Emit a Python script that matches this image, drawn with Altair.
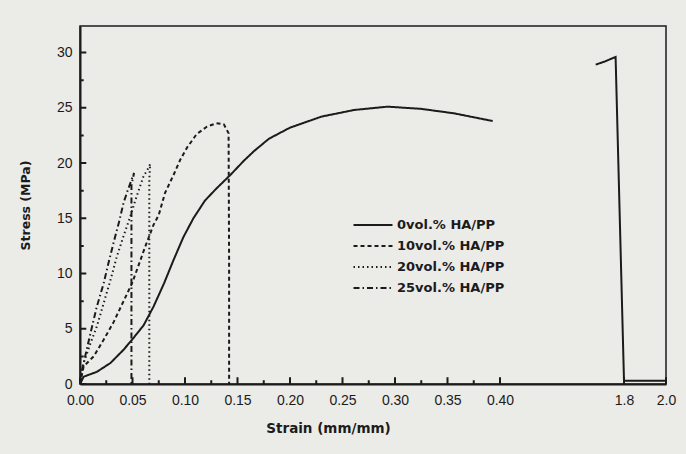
import altair as alt
import pandas as pd

series = ["0vol.% HA/PP", "10vol.% HA/PP", "20vol.% HA/PP", "25vol.% HA/PP"]

# 0 vol.% HA/PP (two pieces either side of the axis break)
s0a_strain = [0, 0.0035, 0.016, 0.029, 0.0415, 0.0495, 0.0605, 0.070, 0.080, 0.089, 0.0985,
              0.108, 0.119, 0.130, 0.143, 0.156, 0.166, 0.18, 0.20, 0.23, 0.261, 0.293,
              0.325, 0.356, 0.393]
s0a_stress = [0, 0.66, 1.1, 1.9, 3.1, 4.0, 5.3, 7.0, 9.1, 11.2, 13.3,
              15.0, 16.6, 17.7, 18.9, 20.2, 21.1, 22.2, 23.2, 24.2, 24.8, 25.1,
              24.9, 24.5, 23.8]
s0b_strain = [1.665, 1.71, 1.76, 1.80, 2.0]
s0b_stress = [28.9, 29.2, 29.6, 0.3, 0.3]

s10_strain = [0, 0.0035, 0.013, 0.0225, 0.032, 0.037, 0.045, 0.0495, 0.056, 0.062, 0.070,
              0.075, 0.081, 0.089, 0.0955, 0.102, 0.111, 0.121, 0.130, 0.137, 0.1415,
              0.142, 0.142]
s10_stress = [0, 1.6, 2.5, 4.0, 5.6, 6.6, 8.2, 9.1, 10.8, 12.4, 14.4,
              15.3, 17.3, 18.9, 20.3, 21.4, 22.6, 23.3, 23.6, 23.5, 22.7,
              11.0, 0]

s20_strain = [0, 0.0035, 0.010, 0.016, 0.0225, 0.029, 0.035, 0.0415, 0.048, 0.054, 0.0605,
              0.0655, 0.0668, 0.066, 0.066]
s20_stress = [0, 1.9, 3.7, 5.2, 7.3, 9.4, 11.5, 13.4, 15.2, 17.0, 18.8,
              19.6, 19.9, 18.5, 0]

s25_strain = [0, 0.002, 0.010, 0.016, 0.0225, 0.027, 0.032, 0.037, 0.0415, 0.045, 0.0495,
              0.0515, 0.049, 0.049]
s25_stress = [0, 1.3, 4.6, 7.0, 9.1, 10.9, 12.8, 14.6, 16.4, 17.4, 18.6,
              19.1, 18.0, 0]

x_major = [0, 0.05, 0.10, 0.15, 0.20, 0.25, 0.30, 0.35, 0.40, 1.8, 2.0]
x_minor = [0.025, 0.075, 0.125, 0.175, 0.225, 0.275, 0.325, 0.375]
y_major = [0, 5, 10, 15, 20, 25, 30]
y_minor = [2.5, 7.5, 12.5, 17.5, 22.5, 27.5]

pieces = [
    (series[0], "a", s0a_strain, s0a_stress),
    (series[0], "b", s0b_strain, s0b_stress),
    (series[1], "a", s10_strain, s10_stress),
    (series[2], "a", s20_strain, s20_stress),
    (series[3], "a", s25_strain, s25_stress),
]
rows = []
for name, seg, xs, ys in pieces:
    for i, (sx, sy) in enumerate(zip(xs, ys)):
        rows.append({"series": name, "piece": name + seg, "i": i, "strain": sx, "stress": sy})

# inward tick marks, each a short solid two-point segment (length in data units)
for k, v in enumerate(x_major):
    rows += [{"series": series[0], "piece": f"xM{k}", "i": 0, "strain": v, "stress": 0.0},
             {"series": series[0], "piece": f"xM{k}", "i": 1, "strain": v, "stress": 0.6}]
for k, v in enumerate(x_minor):
    rows += [{"series": series[0], "piece": f"xm{k}", "i": 0, "strain": v, "stress": 0.0},
             {"series": series[0], "piece": f"xm{k}", "i": 1, "strain": v, "stress": 0.35}]
for k, v in enumerate(y_major):
    rows += [{"series": series[0], "piece": f"yM{k}", "i": 0, "strain": 0.0, "stress": v},
             {"series": series[0], "piece": f"yM{k}", "i": 1, "strain": 0.006, "stress": v}]
for k, v in enumerate(y_minor):
    rows += [{"series": series[0], "piece": f"ym{k}", "i": 0, "strain": 0.0, "stress": v},
             {"series": series[0], "piece": f"ym{k}", "i": 1, "strain": 0.0035, "stress": v}]
df = pd.DataFrame(rows)

W, H = 586, 358
INK = "#1b1b1b"
BG = "#ebebe8"
XT = "Strain (mm/mm)"
YT = "Stress (MPa)"

xscale = alt.Scale(domain=[0, 0.4, 1.6, 2.0], range=[0, 420, 502, W], nice=False, zero=False)
yscale = alt.Scale(domain=[0, 32.4], nice=False, zero=False)

xaxis = alt.Axis(values=x_major, ticks=False, grid=False,
                 labelExpr="datum.value >= 1 ? format(datum.value, '.1f') : format(datum.value, '.2f')",
                 labelFont="Liberation Sans", labelFontSize=14, labelColor=INK,
                 labelPadding=9, labelFlush=False,
                 domainColor=INK, domainWidth=2,
                 title=XT, titleFont="DejaVu Sans", titleFontWeight="bold",
                 titleFontSize=13.5, titleColor=INK, titleX=248, titleY=37,
                 titleAlign="center", titleBaseline="top")
yaxis = alt.Axis(values=y_major, ticks=False, grid=False,
                 labelFont="Liberation Sans", labelFontSize=14, labelColor=INK,
                 labelPadding=8, domainColor=INK, domainWidth=2,
                 title=YT, titleFont="DejaVu Sans", titleFontWeight="bold",
                 titleFontSize=12.5, titleColor=INK, titlePadding=24)

chart = alt.Chart(df).mark_line(strokeWidth=2, strokeCap="butt", color=INK).encode(
    x=alt.X("strain:Q", scale=xscale, axis=xaxis, title=XT),
    y=alt.Y("stress:Q", scale=yscale, axis=yaxis, title=YT),
    strokeDash=alt.StrokeDash("series:N",
                              scale=alt.Scale(domain=series, range=[[1, 0], [4, 3], [1.5, 3], [6, 3, 1.5, 3]]),
                              legend=alt.Legend(orient="none", legendX=282, legendY=188, title=None,
                                                symbolType="M-2,0H2", symbolSize=380,
                                                symbolStrokeWidth=2, symbolStrokeColor=INK,
                                                labelFont="DejaVu Sans", labelFontWeight="bold",
                                                labelFontSize=13, labelColor=INK,
                                                labelOffset=13, rowPadding=3)),
    detail="piece:N",
    order="i:Q",
).properties(
    width=W, height=H,
    autosize=alt.AutoSizeParams(type="none"),
    padding={"left": 80, "top": 26, "right": 686 - 80 - W, "bottom": 454 - 26 - H},
    background=BG,
).configure_view(stroke=INK, strokeWidth=1.5)

chart.save("out.html", embed_options={"renderer": "svg", "actions": False})
